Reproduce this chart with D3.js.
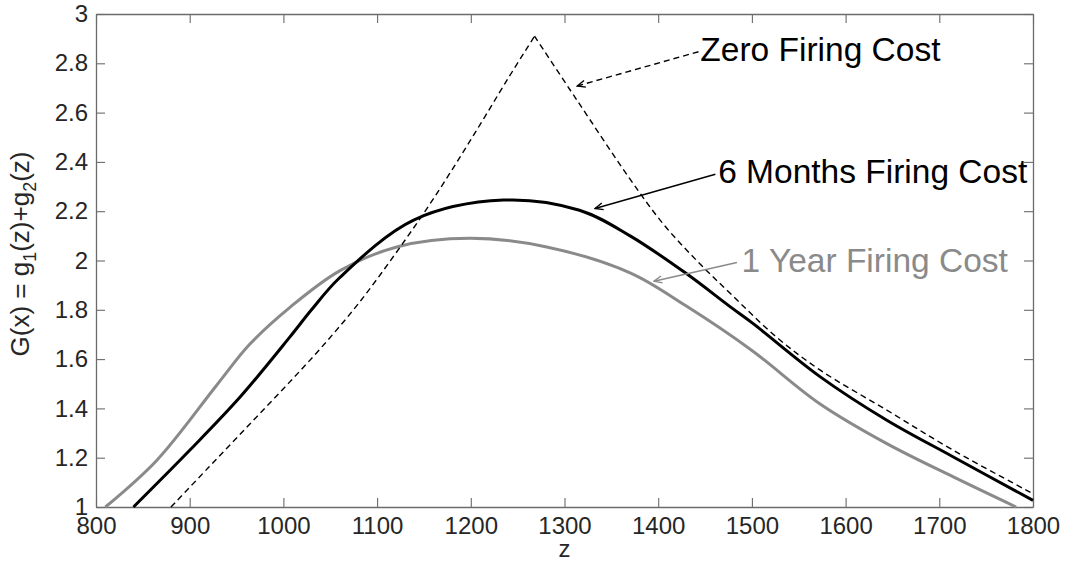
<!DOCTYPE html>
<html>
<head>
<meta charset="utf-8">
<script src="https://cdn.jsdelivr.net/npm/d3@7"></script>
<style>
  body { margin: 0; background: #fff; }
  svg { display: block; font-family: "Liberation Sans", Arial, Helvetica, sans-serif; }
</style>
</head>
<body>
<svg width="1065" height="563"></svg>
<script>
// z -> G
var oneYear = [
  [810, 1.0], [865, 1.19], [929, 1.495], [964, 1.66], [1007, 1.81], [1060, 1.958],
  [1121, 2.055], [1199, 2.09], [1281, 2.055], [1370, 1.95], [1430, 1.815],
  [1500, 1.635], [1572, 1.42], [1644, 1.257], [1715, 1.122], [1782, 1.0]
];
var sixMonths = [
  [840, 1.0], [900, 1.23], [954, 1.447], [1007, 1.69], [1030, 1.80], [1060, 1.93],
  [1139, 2.164], [1235, 2.245], [1316, 2.204], [1370, 2.10], [1430, 1.947],
  [1477, 1.812], [1501, 1.745], [1573, 1.528], [1644, 1.352], [1715, 1.203], [1800, 1.027]
];
var zeroCost = [
  [880, 1.0], [920, 1.16], [960, 1.32], [1000, 1.48], [1040, 1.645], [1080, 1.825],
  [1120, 2.03], [1160, 2.25], [1200, 2.49], [1240, 2.74], [1268, 2.91],
  [1313, 2.652], [1370, 2.33], [1405, 2.15], [1441, 2.0], [1477, 1.866],
  [1526, 1.69], [1573, 1.555], [1644, 1.393], [1715, 1.23], [1800, 1.054]
];
var xTicks = [800, 900, 1000, 1100, 1200, 1300, 1400, 1500, 1600, 1700, 1800];
var yTicks = [1, 1.2, 1.4, 1.6, 1.8, 2, 2.2, 2.4, 2.6, 2.8, 3];

// annotations: label, text anchor point, arrow start, arrow tip
var notes = [
  {label: "Zero Firing Cost", at: [1445, 2.809], from: [1443, 2.847], to: [1313.6, 2.708], color: "#000", dash: "6,4"},
  {label: "6 Months Firing Cost", at: [1464, 2.313], from: [1461, 2.35], to: [1332.6, 2.211], color: "#000", dash: null},
  {label: "1 Year Firing Cost", at: [1489, 1.954], from: [1484, 1.992], to: [1395.5, 1.916], color: "#8a8a8a", dash: null}
];

var svg = d3.select("svg");
var margin = {top: 14, right: 32, bottom: 56, left: 96};
var width = +svg.attr("width") - margin.left - margin.right;
var height = +svg.attr("height") - margin.top - margin.bottom;

var g = svg.append("g")
  .attr("transform", "translate(" + margin.left + "," + margin.top + ")");

var x = d3.scaleLinear().domain([800, 1800]).range([0, width]);
var y = d3.scaleLinear().domain([1, 3]).range([height, 0]);

var fmt = d3.format("~g");
var axisColor = "#6b6b6b";

function styleAxis(sel) {
  sel.select(".domain").attr("stroke", axisColor).attr("stroke-width", 1.3);
  sel.selectAll(".tick line").attr("stroke", axisColor).attr("stroke-width", 1.1);
  sel.selectAll(".tick text").attr("fill", "#262626").style("font-size", "24px")
    .style("font-family", "\"Liberation Sans\", Arial, Helvetica, sans-serif");
}

g.append("g")
  .attr("transform", "translate(0," + height + ")")
  .call(d3.axisBottom(x).tickValues(xTicks).tickFormat(fmt).tickSizeInner(-9).tickSizeOuter(0).tickPadding(10))
  .call(styleAxis);
g.append("g")
  .call(d3.axisTop(x).tickValues(xTicks).tickFormat("").tickSizeInner(-9).tickSizeOuter(0))
  .call(styleAxis);
g.append("g")
  .call(d3.axisLeft(y).tickValues(yTicks).tickFormat(fmt).tickSizeInner(-9).tickSizeOuter(0).tickPadding(8))
  .call(styleAxis);
g.append("g")
  .attr("transform", "translate(" + width + ",0)")
  .call(d3.axisRight(y).tickValues(yTicks).tickFormat("").tickSizeInner(-9).tickSizeOuter(0))
  .call(styleAxis);

var smooth = d3.line()
  .x(function(d) { return x(d[0]); })
  .y(function(d) { return y(d[1]); })
  .curve(d3.curveCatmullRom.alpha(0.5));

g.append("path").datum(oneYear)
  .attr("fill", "none").attr("stroke", "#8a8a8a").attr("stroke-width", 3)
  .attr("d", smooth);

g.append("path").datum(sixMonths)
  .attr("fill", "none").attr("stroke", "#000").attr("stroke-width", 3)
  .attr("d", smooth);

// zero cost has a kink at its top, so draw both sides apart
var peak = d3.maxIndex(zeroCost, function(d) { return d[1]; });
[zeroCost.slice(0, peak + 1), zeroCost.slice(peak)].forEach(function(part) {
  g.append("path").datum(part)
    .attr("fill", "none").attr("stroke", "#000").attr("stroke-width", 1.4)
    .attr("stroke-dasharray", "6,4")
    .attr("d", smooth);
});

// arrow heads
var defs = svg.append("defs");
notes.forEach(function(n, i) {
  defs.append("marker")
    .attr("id", "head" + i)
    .attr("viewBox", "-9 -5 10 10")
    .attr("refX", 0).attr("refY", 0)
    .attr("markerWidth", 10).attr("markerHeight", 10)
    .attr("markerUnits", "userSpaceOnUse")
    .attr("orient", "auto")
    .append("path")
    .attr("d", "M-8,-3.5L0,0L-8,3.5")
    .attr("fill", "none").attr("stroke", n.color).attr("stroke-width", 1.4);
});

var noteG = g.append("g");
notes.forEach(function(n, i) {
  noteG.append("line")
    .attr("x1", x(n.from[0])).attr("y1", y(n.from[1]))
    .attr("x2", x(n.to[0])).attr("y2", y(n.to[1]))
    .attr("stroke", n.color).attr("stroke-width", 1.4)
    .attr("stroke-dasharray", n.dash)
    .attr("marker-end", "url(#head" + i + ")");
  noteG.append("text")
    .attr("x", x(n.at[0])).attr("y", y(n.at[1]))
    .attr("fill", n.color)
    .style("font-size", "33.5px")
    .text(n.label);
});

// axis labels
svg.append("text")
  .attr("x", margin.left + width / 2).attr("y", 557)
  .attr("text-anchor", "middle").attr("fill", "#262626")
  .style("font-size", "24px")
  .text("z");

var yl = svg.append("text")
  .attr("transform", "translate(29,254) rotate(-90)")
  .attr("text-anchor", "middle").attr("fill", "#262626")
  .style("font-size", "26px");
yl.append("tspan").text("G(x) = g");
yl.append("tspan").attr("dy", 7).style("font-size", "18px").text("1");
yl.append("tspan").attr("dy", -7).text("(z)+g");
yl.append("tspan").attr("dy", 7).style("font-size", "18px").text("2");
yl.append("tspan").attr("dy", -7).text("(z)");
</script>
</body>
</html>
